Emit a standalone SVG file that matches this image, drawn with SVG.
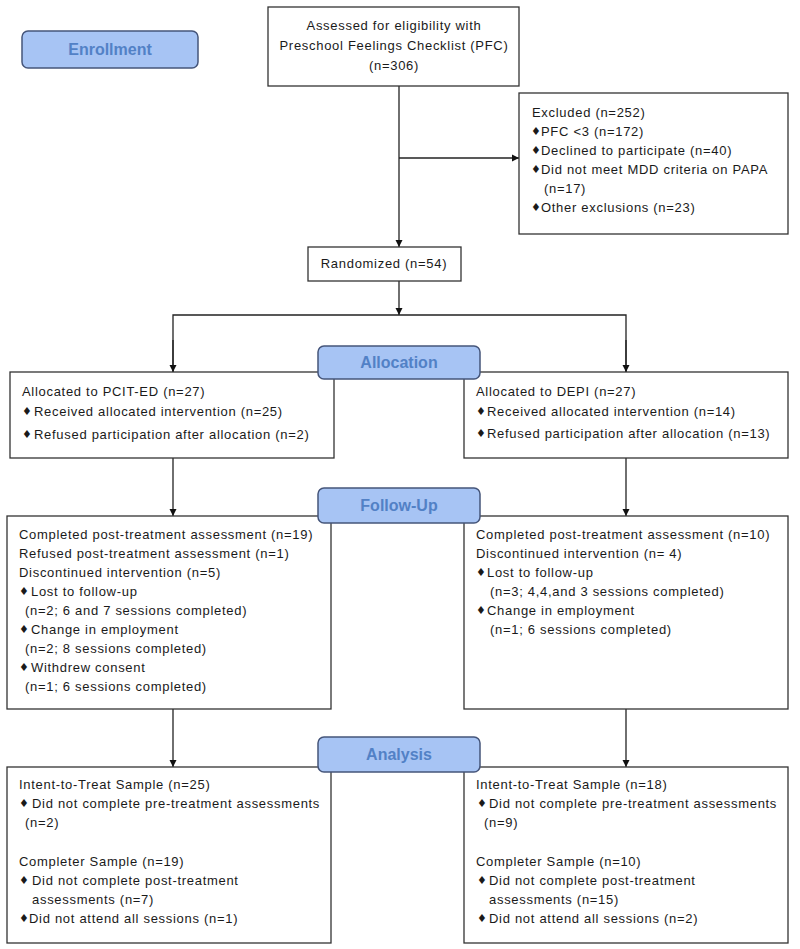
<svg xmlns="http://www.w3.org/2000/svg" width="800" height="949" viewBox="0 0 800 949">
<defs>
<marker id="ah" markerWidth="8" markerHeight="8" refX="7" refY="4" orient="auto" markerUnits="userSpaceOnUse">
<path d="M0,0.5 L7,4 L0,7.5 Z" fill="#111"/>
</marker>
<style>
.box{fill:#fff;stroke:#333;stroke-width:1.3}
.pill{fill:#a7c4f4;stroke:#45557a;stroke-width:1.5}
.ph{font-family:"Liberation Sans",Arial,sans-serif;font-weight:bold;font-size:16px;fill:#5281c6;text-anchor:middle}
.t{font-family:"Liberation Sans",Arial,sans-serif;font-size:13px;fill:#1a1a1a;letter-spacing:0.7px}
.c{text-anchor:middle}
.b{font-family:"DejaVu Sans",sans-serif;font-size:11px;fill:#1a1a1a}
.ln{fill:none;stroke:#222;stroke-width:1.3}
</style>
</defs>
<rect width="800" height="949" fill="#fff"/>

<g id="connectors">
<path class="ln" d="M399,86 V247" marker-end="url(#ah)"/>
<path class="ln" d="M399,158 H519" marker-end="url(#ah)"/>
<path class="ln" d="M399,281 V315" marker-end="url(#ah)"/>
<path class="ln" d="M173,372 V315 H626 V372" />
<path class="ln" d="M173,340 V372" marker-end="url(#ah)"/>
<path class="ln" d="M626,340 V372" marker-end="url(#ah)"/>
<path class="ln" d="M173,458 V516" marker-end="url(#ah)"/>
<path class="ln" d="M626,458 V516" marker-end="url(#ah)"/>
<path class="ln" d="M173,709 V767" marker-end="url(#ah)"/>
<path class="ln" d="M626,709 V767" marker-end="url(#ah)"/>
</g>

<g id="assessed">
<rect class="box" x="268" y="7" width="251" height="79"/>
<text class="t c" x="394" y="30">Assessed for eligibility with</text>
<text class="t c" x="394" y="50">Preschool Feelings Checklist (PFC)</text>
<text class="t c" x="394" y="70">(n=306)</text>
</g>

<g id="excluded">
<rect class="box" x="519" y="93" width="269" height="141"/>
<text class="t" x="532" y="117">Excluded (n=252)</text>
<text class="b" x="531" y="135">♦</text><text class="t" x="541" y="136">PFC &lt;3 (n=172)</text>
<text class="b" x="531" y="154">♦</text><text class="t" x="541" y="155">Declined to participate (n=40)</text>
<text class="b" x="531" y="173">♦</text><text class="t" x="541" y="174">Did not meet MDD criteria on PAPA</text>
<text class="t" x="544" y="193">(n=17)</text>
<text class="b" x="531" y="211">♦</text><text class="t" x="541" y="212">Other exclusions (n=23)</text>
</g>

<g id="randomized">
<rect class="box" x="308" y="247" width="153" height="34"/>
<text class="t c" x="384" y="268">Randomized (n=54)</text>
</g>

<g id="alloc-left">
<rect class="box" x="10" y="372" width="324" height="86"/>
<text class="t" x="22" y="396">Allocated to PCIT-ED (n=27)</text>
<text class="b" x="22" y="415">♦</text><text class="t" x="34" y="416">Received allocated intervention (n=25)</text>
<text class="b" x="22" y="438">♦</text><text class="t" x="34" y="439">Refused participation after allocation (n=2)</text>
</g>

<g id="alloc-right">
<rect class="box" x="464" y="372" width="324" height="86"/>
<text class="t" x="476" y="396">Allocated to DEPI (n=27)</text>
<text class="b" x="476" y="415">♦</text><text class="t" x="487" y="416">Received allocated intervention (n=14)</text>
<text class="b" x="476" y="437">♦</text><text class="t" x="487" y="438">Refused participation after allocation (n=13)</text>
</g>

<g id="follow-left">
<rect class="box" x="7" y="516" width="324" height="193"/>
<text class="t" x="19" y="539">Completed post-treatment assessment (n=19)</text>
<text class="t" x="19" y="558">Refused post-treatment assessment (n=1)</text>
<text class="t" x="19" y="577">Discontinued intervention (n=5)</text>
<text class="b" x="19" y="595">♦</text><text class="t" x="31" y="596">Lost to follow-up</text>
<text class="t" x="25" y="615">(n=2; 6 and 7 sessions completed)</text>
<text class="b" x="19" y="633">♦</text><text class="t" x="31" y="634">Change in employment</text>
<text class="t" x="25" y="653">(n=2; 8 sessions completed)</text>
<text class="b" x="19" y="671">♦</text><text class="t" x="31" y="672">Withdrew consent</text>
<text class="t" x="25" y="691">(n=1; 6 sessions completed)</text>
</g>

<g id="follow-right">
<rect class="box" x="464" y="516" width="324" height="193"/>
<text class="t" x="476" y="539">Completed post-treatment assessment (n=10)</text>
<text class="t" x="476" y="558">Discontinued intervention (n= 4)</text>
<text class="b" x="476" y="576">♦</text><text class="t" x="487" y="577">Lost to follow-up</text>
<text class="t" x="490" y="596">(n=3; 4,4,and 3 sessions completed)</text>
<text class="b" x="476" y="614">♦</text><text class="t" x="487" y="615">Change in employment</text>
<text class="t" x="490" y="634">(n=1; 6 sessions completed)</text>
</g>

<g id="analysis-left">
<rect class="box" x="7" y="767" width="324" height="176"/>
<text class="t" x="19" y="789">Intent-to-Treat Sample (n=25)</text>
<text class="b" x="19" y="807">♦</text><text class="t" x="32" y="808">Did not complete pre-treatment assessments</text>
<text class="t" x="25" y="827">(n=2)</text>
<text class="t" x="19" y="866">Completer Sample (n=19)</text>
<text class="b" x="19" y="884">♦</text><text class="t" x="32" y="885">Did not complete post-treatment</text>
<text class="t" x="32" y="904">assessments (n=7)</text>
<text class="b" x="19" y="922">♦</text><text class="t" x="29" y="923">Did not attend all sessions (n=1)</text>
</g>

<g id="analysis-right">
<rect class="box" x="464" y="767" width="324" height="176"/>
<text class="t" x="476" y="789">Intent-to-Treat Sample (n=18)</text>
<text class="b" x="477" y="807">♦</text><text class="t" x="489" y="808">Did not complete pre-treatment assessments</text>
<text class="t" x="484" y="827">(n=9)</text>
<text class="t" x="476" y="866">Completer Sample (n=10)</text>
<text class="b" x="477" y="884">♦</text><text class="t" x="489" y="885">Did not complete post-treatment</text>
<text class="t" x="489" y="904">assessments (n=15)</text>
<text class="b" x="477" y="922">♦</text><text class="t" x="489" y="923">Did not attend all sessions (n=2)</text>
</g>

<g id="enrollment">
<rect class="pill" x="22" y="31" width="176" height="37" rx="6"/>
<text class="ph" x="110" y="55">Enrollment</text>
</g>
<g id="allocation">
<rect class="pill" x="318" y="346" width="162" height="33" rx="6"/>
<text class="ph" x="399" y="368">Allocation</text>
</g>
<g id="followup">
<rect class="pill" x="318" y="488" width="162" height="35" rx="6"/>
<text class="ph" x="399" y="511">Follow-Up</text>
</g>
<g id="analysis">
<rect class="pill" x="318" y="737" width="162" height="35" rx="6"/>
<text class="ph" x="399" y="760">Analysis</text>
</g>
</svg>
